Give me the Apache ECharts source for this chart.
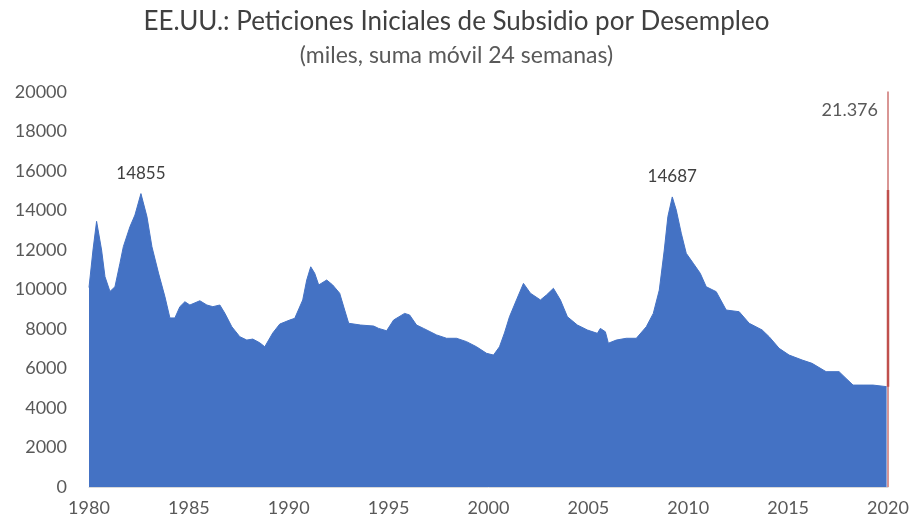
<!DOCTYPE html>
<html>
<head>
<meta charset="utf-8">
<script src="https://cdn.jsdelivr.net/npm/echarts@6/dist/echarts.min.js"></script>
<style>
  html, body { margin: 0; padding: 0; background: #fff; }
  #chart { width: 913px; height: 531px; }
</style>
</head>
<body>
<div id="chart"></div>
<script>
// suma móvil 24 semanas, miles
const years = [
  1980.0, 1980.2, 1980.38, 1980.63, 1980.8, 1981.05, 1981.3, 1981.55, 1981.72, 1982.05,
  1982.3, 1982.6, 1982.9, 1983.15, 1983.48, 1983.8, 1984.05, 1984.3, 1984.55, 1984.8,
  1985.05, 1985.55, 1985.9, 1986.2, 1986.55, 1986.8, 1987.15, 1987.55, 1987.9, 1988.2,
  1988.55, 1988.8, 1989.2, 1989.55, 1990.05, 1990.3, 1990.7, 1990.9, 1991.1, 1991.3,
  1991.5, 1991.9, 1992.2, 1992.55, 1992.8, 1993.0, 1993.6, 1994.25, 1994.5, 1994.9,
  1995.25, 1995.8, 1996.05, 1996.4, 1996.75, 1997.4, 1997.9, 1998.4, 1998.9, 1999.4,
  1999.9, 2000.25, 2000.55, 2000.8, 2001.05, 2001.4, 2001.75, 2002.1, 2002.6, 2002.9,
  2003.25, 2003.6, 2003.95, 2004.45, 2004.95, 2005.45, 2005.6, 2005.85, 2006.0, 2006.4,
  2006.9, 2007.4, 2007.9, 2008.25, 2008.55, 2008.8, 2008.98, 2009.2, 2009.4, 2009.65,
  2009.9, 2010.25, 2010.6, 2010.9, 2011.4, 2011.9, 2012.55, 2013.05, 2013.7, 2014.05,
  2014.55, 2015.05, 2015.7, 2016.2, 2016.9, 2017.55, 2017.9, 2018.25, 2018.75, 2019.25,
  2019.93
];
const claims = [
  10100, 12000, 13450, 12000, 10650, 9900, 10140, 11330, 12170, 13180,
  13770, 14855, 13690, 12170, 10830, 9640, 8560, 8560, 9130, 9380,
  9215, 9430, 9215, 9130, 9215, 8800, 8115, 7610, 7440, 7490,
  7300, 7100, 7800, 8250, 8455, 8540, 9470, 10480, 11150, 10820,
  10230, 10480, 10230, 9810, 8960, 8290, 8200, 8150, 8030, 7910,
  8455, 8790, 8710, 8200, 8030, 7700, 7530, 7530, 7360, 7100,
  6770, 6680, 7100, 7800, 8620, 9470, 10310, 9810, 9470, 9720,
  10060, 9470, 8620, 8200, 7950, 7780, 8030, 7860, 7280, 7440,
  7530, 7530, 8115, 8790, 9970, 12000, 13690, 14687, 14020, 12850,
  11830, 11330, 10820, 10140, 9890, 8960, 8875, 8290, 7950, 7610,
  7020, 6680, 6430, 6260, 5840, 5840, 5500, 5160, 5160, 5160,
  5080
];
// salto de 2020: línea fina hasta el último dato, tramo grueso intermedio
const spikeYears = [2020, 2020];
const spikeValues = [0, 21376];
const spikeThick = [5080, 15040];
const peakYears = [1982.6, 2009.2];
const peakValues = [14855, 14687];

const fmtEs = v => String(v).replace(/\B(?=(\d{3})+(?!\d))/g, '.');

const chart = echarts.init(document.getElementById('chart'));
const option = {
  backgroundColor: '#fff',
  animation: false,
  textStyle: { fontFamily: 'Lato' },
  title: {
    text: 'EE.UU.: Peticiones Iniciales de Subsidio por Desempleo',
    subtext: '(miles, suma móvil 24 semanas)',
    left: 'center',
    top: 4,
    itemGap: 9,
    textStyle: { fontFamily: 'Lato', fontSize: 26, fontWeight: 'normal', color: '#404040' },
    subtextStyle: { fontFamily: 'Lato', fontSize: 23, color: '#595959' }
  },
  grid: { left: 89, right: 25, top: 92, bottom: 44 },
  xAxis: {
    type: 'value',
    min: 1980,
    max: 2020,
    interval: 5,
    axisLine: { show: true, lineStyle: { color: '#d9d9d9' } },
    axisTick: { show: false },
    splitLine: { show: false },
    axisLabel: { fontSize: 18, color: '#595959', margin: 12, formatter: v => String(v) }
  },
  yAxis: {
    type: 'value',
    min: 0,
    max: 20000,
    interval: 2000,
    axisLine: { show: false },
    axisTick: { show: false },
    splitLine: { show: false },
    axisLabel: { fontSize: 18, color: '#595959', margin: 22, formatter: v => String(v) }
  },
  series: [
    {
      name: 'Peticiones',
      type: 'line',
      data: years.map((y, i) => [y, claims[i]]),
      showSymbol: false,
      lineStyle: { width: 1, color: '#4472C4' },
      areaStyle: { color: '#4472C4', opacity: 1 },
      markPoint: {
        symbol: 'circle',
        symbolSize: 0,
        label: { show: true, position: 'top', distance: 12, fontSize: 17, color: '#404040', formatter: p => String(p.value) },
        data: peakYears.map((y, i) => ({ coord: [y, peakValues[i]], value: peakValues[i] }))
      }
    },
    {
      name: '2020',
      type: 'line',
      data: spikeYears.map((y, i) => [y, spikeValues[i]]),
      showSymbol: false,
      lineStyle: { width: 1.2, color: '#C0504D' },
      markPoint: {
        symbol: 'circle',
        symbolSize: 0,
        label: { show: true, position: 'left', distance: 10, fontSize: 18, color: '#595959', formatter: () => fmtEs(spikeValues[1]) },
        data: [{ coord: [2020, 19100] }]
      }
    },
    {
      name: '2020b',
      type: 'line',
      data: spikeThick.map(v => [spikeYears[1], v]),
      showSymbol: false,
      lineStyle: { width: 2.5, color: '#C0504D' }
    }
  ]
};
chart.setOption(option);
</script>
</body>
</html>
